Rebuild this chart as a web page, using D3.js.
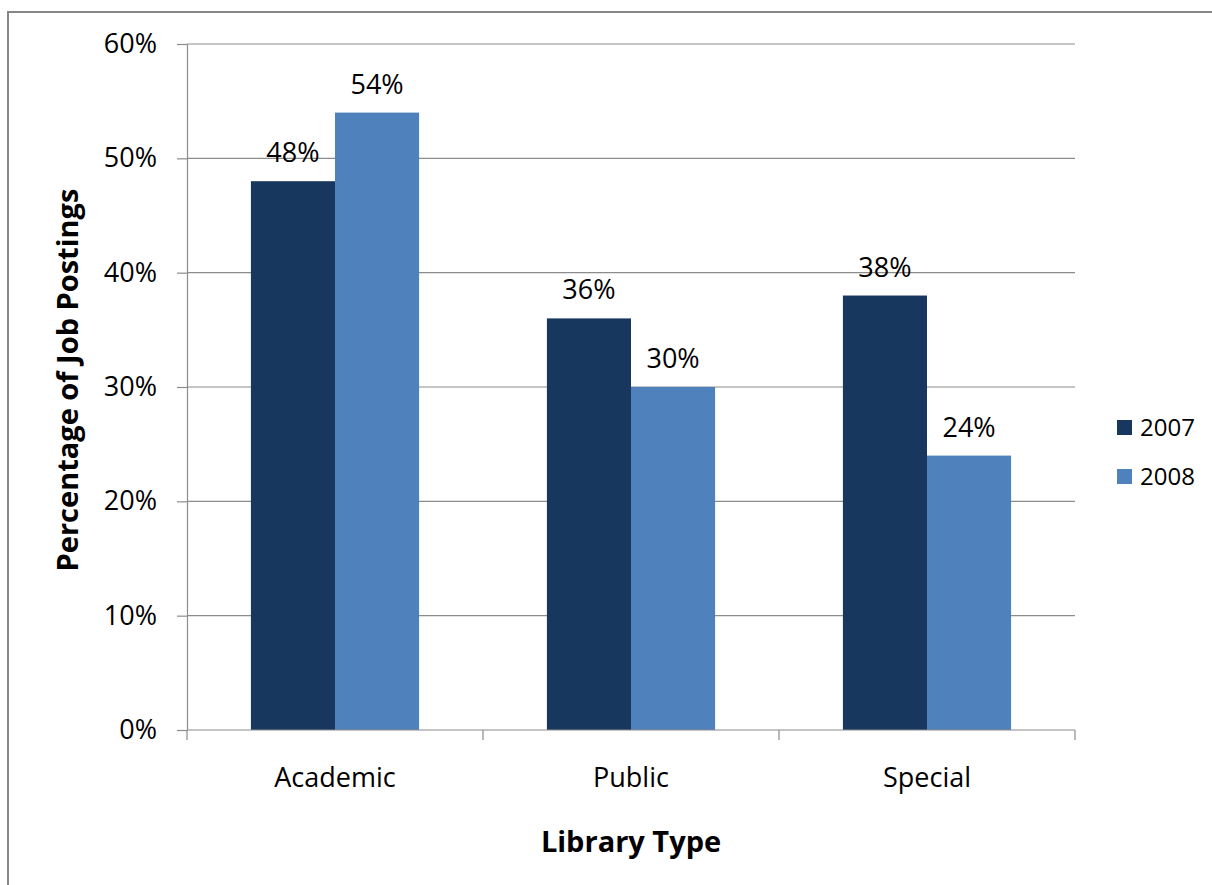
<!DOCTYPE html>
<html>
<head>
<meta charset="utf-8">
<script src="https://cdn.jsdelivr.net/npm/d3@7"></script>
<style>
  body { margin: 0; background: #fff; }
  svg { display: block; font-family: "Open Sans", sans-serif; }
</style>
</head>
<body>
<div id="wrapper"></div>
<script>
const categories = ['Academic', 'Public', 'Special']
const series = ['2007', '2008']
const values2007 = [48, 36, 38]
const values2008 = [54, 30, 24]
const yTicks = [0, 10, 20, 30, 40, 50, 60]
const colors = ['#17375e', '#4f81bd']

const dataset = categories.map((c, i) => ({
  category: c,
  values: [
    { key: series[0], value: values2007[i] },
    { key: series[1], value: values2008[i] }
  ]
}))

let dimensions = {
  width: 1212,
  height: 885,
  margin: { top: 44, right: 137, bottom: 155, left: 187 }
}
dimensions.boundedWidth = dimensions.width - dimensions.margin.left - dimensions.margin.right
dimensions.boundedHeight = dimensions.height - dimensions.margin.top - dimensions.margin.bottom

const svg = d3.select('#wrapper')
  .append('svg')
  .attr('width', dimensions.width)
  .attr('height', dimensions.height)

// chart frame
svg.append('rect')
  .attr('x', 8)
  .attr('y', 12)
  .attr('width', 1400)
  .attr('height', 1200)
  .attr('fill', 'none')
  .attr('stroke', '#878787')
  .attr('stroke-width', 2)

const bounds = svg.append('g')
  .attr('transform', `translate(${dimensions.margin.left},${dimensions.margin.top})`)

const x0 = d3.scaleBand()
  .domain(categories)
  .range([0, dimensions.boundedWidth])
  .padding(0)

const x1 = d3.scaleBand()
  .domain(series)
  .range([0, x0.bandwidth()])
  .paddingInner(0)
  .paddingOuter(0.76)

const yScale = d3.scaleLinear()
  .domain([0, 60])
  .range([dimensions.boundedHeight, 0])

const colorScale = d3.scaleOrdinal().domain(series).range(colors)

// gridlines
bounds.append('g')
  .selectAll('line')
  .data(yTicks.filter(d => d > 0))
  .join('line')
  .attr('x1', 0)
  .attr('x2', dimensions.boundedWidth)
  .attr('y1', d => yScale(d))
  .attr('y2', d => yScale(d))
  .attr('stroke', '#8c8c8c')
  .attr('stroke-width', 1.2)

// y axis
const yAxis = bounds.append('g')
  .call(d3.axisLeft(yScale)
    .tickValues(yTicks)
    .tickFormat(d => d + '%')
    .tickSize(10)
    .tickSizeOuter(0)
    .tickPadding(20))
yAxis.select('.domain').attr('stroke', '#8c8c8c').attr('stroke-width', 1.2)
yAxis.selectAll('.tick line').attr('stroke', '#8c8c8c').attr('stroke-width', 1.2)
yAxis.selectAll('.tick text')
  .attr('fill', '#000')
  .style('font-size', '27px')
  .style('font-family', '"Open Sans", sans-serif')

// bars
const groups = bounds.append('g')
  .selectAll('g')
  .data(dataset)
  .join('g')
  .attr('transform', d => `translate(${x0(d.category)},0)`)

groups.selectAll('rect')
  .data(d => d.values)
  .join('rect')
  .attr('x', d => x1(d.key))
  .attr('y', d => yScale(d.value))
  .attr('width', x1.bandwidth())
  .attr('height', d => dimensions.boundedHeight - yScale(d.value))
  .attr('fill', d => colorScale(d.key))

groups.selectAll('text')
  .data(d => d.values)
  .join('text')
  .attr('x', d => x1(d.key) + x1.bandwidth() / 2)
  .attr('y', d => yScale(d.value) - 19)
  .attr('text-anchor', 'middle')
  .style('font-size', '27px')
  .attr('fill', '#000')
  .text(d => d.value + '%')

// x axis
const xAxis = bounds.append('g')
  .attr('transform', `translate(0,${dimensions.boundedHeight})`)

xAxis.append('line')
  .attr('x1', 0)
  .attr('x2', dimensions.boundedWidth)
  .attr('stroke', '#8c8c8c')
  .attr('stroke-width', 1.2)

const boundaries = categories.map(c => x0(c)).concat([x0.range()[1]])
xAxis.selectAll('.bound')
  .data(boundaries)
  .join('line')
  .attr('class', 'bound')
  .attr('x1', d => d)
  .attr('x2', d => d)
  .attr('y1', 0)
  .attr('y2', 10)
  .attr('stroke', '#8c8c8c')
  .attr('stroke-width', 1.2)

xAxis.selectAll('.cat')
  .data(categories)
  .join('text')
  .attr('class', 'cat')
  .attr('x', d => x0(d) + x0.bandwidth() / 2)
  .attr('y', 57)
  .attr('text-anchor', 'middle')
  .style('font-size', '27px')
  .attr('fill', '#000')
  .text(d => d)

// axis titles
svg.append('text')
  .attr('x', 631)
  .attr('y', 852)
  .attr('text-anchor', 'middle')
  .style('font-size', '29px')
  .style('font-weight', 'bold')
  .text('Library Type')

svg.append('text')
  .attr('transform', `translate(78,${380}) rotate(-90)`)
  .attr('text-anchor', 'middle')
  .style('font-size', '29px')
  .style('font-weight', 'bold')
  .text('Percentage of Job Postings')

// legend
const legend = svg.append('g')
  .attr('transform', 'translate(1117,420)')

const legendItems = legend.selectAll('g')
  .data(series)
  .join('g')
  .attr('transform', (d, i) => `translate(0,${i * 49})`)

legendItems.append('rect')
  .attr('width', 15)
  .attr('height', 15)
  .attr('fill', d => colorScale(d))

legendItems.append('text')
  .attr('x', 23)
  .attr('y', 16)
  .style('font-size', '24px')
  .attr('fill', '#000')
  .text(d => d)
</script>
</body>
</html>
